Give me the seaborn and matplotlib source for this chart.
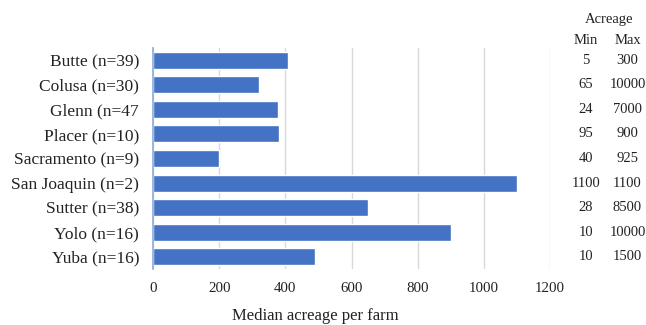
import matplotlib
matplotlib.use("Agg")
import matplotlib.pyplot as plt
import matplotlib.transforms as mtransforms
import seaborn as sns
import pandas as pd

counties = ["Butte (n=39)", "Colusa (n=30)", "Glenn (n=47", "Placer (n=10)",
            "Sacramento (n=9)", "San Joaquin (n=2)", "Sutter (n=38)",
            "Yolo (n=16)", "Yuba (n=16)"]
median_acreage = [408, 320, 377, 381, 200, 1100, 650, 900, 490]
min_acreage = ["5", "65", "24", "95", "40", "1100", "28", "10", "10"]
max_acreage = ["300", "10000", "7000", "900", "925", "1100", "8500", "10000", "1500"]
x_ticks = [0, 200, 400, 600, 800, 1000, 1200]

df = pd.DataFrame({"county": counties, "median": median_acreage})

sns.set_theme(style="white")
plt.rcParams["font.family"] = ["Liberation Serif", "DejaVu Serif"]

W, H = 646, 325
fig = plt.figure(figsize=(W / 100, H / 100), dpi=100)
ax = fig.add_axes([153 / W, 1 - 269 / H, (550 - 153) / W, (269 - 48) / H])

sns.barplot(data=df, x="median", y="county", orient="h", color="#4472C4",
            saturation=1, width=0.69, ax=ax, zorder=3)

ax.set_xlim(0, 1200)
ax.set_ylim(len(counties) - 0.5, -0.5)
ax.set_xticks(x_ticks)
ax.set_xticklabels([str(t) for t in x_ticks], fontsize=10.7, color="#222222")
ax.tick_params(axis="x", length=0, pad=9)
ax.tick_params(axis="y", length=0, pad=10, labelsize=12.5, labelcolor="#222222")
ax.set_ylabel("")
ax.set_xlabel("")
ax.xaxis.grid(True, color="#d9d9d9", linewidth=1, zorder=0)
ax.yaxis.grid(False)
for s in ["top", "right", "bottom"]:
    ax.spines[s].set_visible(False)
ax.spines["left"].set_color("#8EA9DB")
ax.spines["left"].set_linewidth(1.2)
ax.spines["left"].set_zorder(4)

fig.text(315.5 / W, 1 - 316 / H, "Median acreage per farm", ha="center", va="center",
         fontsize=12, color="#222222")

# Side table
fig.text(609.5 / W, 1 - 20 / H, "Acreage", ha="center", va="center", fontsize=10.5, color="#222222")
fig.text(586 / W, 1 - 41 / H, "Min", ha="center", va="center", fontsize=10.5, color="#222222")
fig.text(627.5 / W, 1 - 41 / H, "Max", ha="center", va="center", fontsize=10.5, color="#222222")
trans = mtransforms.blended_transform_factory(fig.transFigure, ax.transData)
for i, (mn, mx) in enumerate(zip(min_acreage, max_acreage)):
    ax.text(586 / W, i, mn, transform=trans, ha="center", va="center", fontsize=10.5,
            color="#222222", clip_on=False)
    ax.text(627.5 / W, i, mx, transform=trans, ha="center", va="center", fontsize=10.5,
            color="#222222", clip_on=False)

fig.savefig("out.png", dpi=100, facecolor="white")
